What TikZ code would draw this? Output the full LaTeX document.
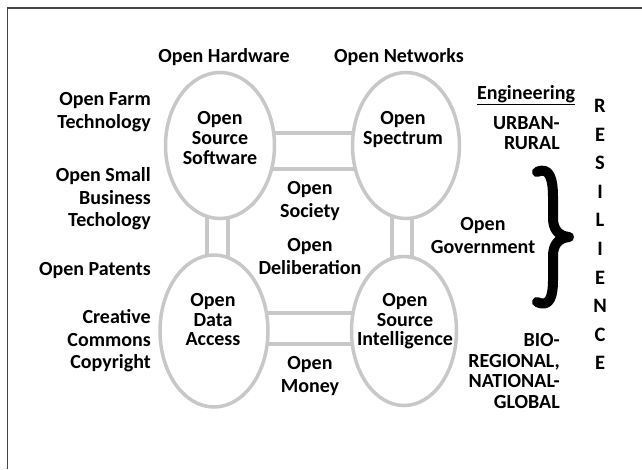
\documentclass[tikz,border=0pt]{standalone}
\usepackage{fontspec}
\setmainfont{Carlito}
\usetikzlibrary{shapes.geometric}
\pgfdeclarelayer{bg}
\pgfsetlayers{bg,main}
\definecolor{ringc}{RGB}{200,200,200}
\definecolor{framec}{RGB}{70,70,70}
\newcommand{\mystrut}{\rule{0pt}{16pt}}
\begin{document}
\begin{tikzpicture}[x=1pt,y=-1pt,
  ring/.style={ellipse, draw=ringc, line width=3.5pt, fill=white, inner sep=0},
  link/.style={draw=ringc, line width=3.5pt},
  lbl/.style={inner sep=0, anchor=north, align=center, font=\fontsize{20}{22.3}\selectfont\bfseries},
  rlbl/.style={lbl, anchor=north east, align=right},
  intxt/.style={lbl, font=\fontsize{20}{20}\selectfont\bfseries},
  geo/.style={rlbl, font=\fontsize{20}{20.6}\selectfont\bfseries},
  letter/.style={inner sep=0, anchor=north, font=\fontsize{20.5}{22}\selectfont\bfseries}
]
\useasboundingbox (0,0) rectangle (642,469);
\draw[framec, line width=1.6pt] (7.5,469) -- (7.5,8) -- (642,8);

% ellipses
\node[ring, minimum width=109pt, minimum height=146pt] (oss) at (220,145.5) {};
\node[ring, minimum width=107pt, minimum height=146pt] (osp) at (406,145.5) {};
\node[ring, minimum width=108pt, minimum height=152pt] (oda) at (214,331) {};
\node[ring, minimum width=105pt, minimum height=149pt] (osi) at (404,331) {};

% connectors
\begin{pgfonlayer}{bg}
\draw[link] (oss |- 0,133) -- (osp |- 0,133);
\draw[link] (oss |- 0,169) -- (osp |- 0,169);
\draw[link] (oda |- 0,313) -- (osi |- 0,313);
\draw[link] (oda |- 0,344) -- (osi |- 0,344);
\draw[link] (oss -| 207,0) -- (oda -| 207,0);
\draw[link] (oss -| 228,0) -- (oda -| 228,0);
\draw[link] (osp -| 392,0) -- (osi -| 392,0);
\draw[link] (osp -| 412,0) -- (osi -| 412,0);
\end{pgfonlayer}

% ellipse texts
\node[intxt] (osstxt) at (220,108.5) {\mystrut Open\\Source\\Software};
\node[intxt] (osptxt) at (403,108.5) {\mystrut Open\\Spectrum};
\node[intxt, font=\fontsize{20}{19.5}\selectfont\bfseries] (odatxt) at (213,290.5) {\mystrut Open\\Data\\Access};
\node[intxt, font=\fontsize{20}{19.5}\selectfont\bfseries] (ositxt) at (405,290.5) {\mystrut Open\\Source\\Intelligence};

% top labels
\node[lbl] (hw) at (224,46.5) {\mystrut Open Hardware};
\node[lbl] (nw) at (399,46.5) {\mystrut Open Networks};

% left labels
\node[rlbl] (farm) at (151,89.5) {\mystrut Open Farm\\Technology};
\node[rlbl] (small) at (151,165.5) {\mystrut Open Small\\Business\\Techology};
\node[rlbl] (patents) at (151,259.5) {\mystrut Open Patents};
\node[rlbl] (cc) at (151,307.5) {\mystrut Creative\\Commons\\Copyright};

% middle labels
\node[lbl] (society) at (310,178.5) {\mystrut Open\\Society};
\node[lbl] (delib) at (310,235.5) {\mystrut Open\\Deliberation};
\node[lbl] (money) at (310,353.5) {\mystrut Open\\Money};
\node[lbl] (gov) at (483,214.5) {\mystrut Open\\Government};

% right side
\node[lbl] (eng) at (526,83.5) {\mystrut\underline{Engineering}};
\node[geo, font=\fontsize{20}{20}\selectfont\bfseries] (urban) at (560,113.5) {\mystrut URBAN-\\RURAL};
\node[geo] (bio) at (560,330.5) {\mystrut BIO-\\REGIONAL,\\NATIONAL-\\GLOBAL};

% brace
\draw[line width=10pt, line cap=round, line join=round]
  (537,172) .. controls (550,166) and (553,180) .. (553,197) -- (553,218)
  .. controls (553,230) and (559,236) .. (569,237)
  .. controls (559,238) and (553,244) .. (553,256) -- (553,280)
  .. controls (553,296) and (550,308) .. (537,302);

% RESILIENCE
\foreach \ch [count=\i from 0] in {R,E,S,I,L,I,E,N,C,E} {
  \node[letter] (res\i) at (600,96.5+\i*28.55) {\mystrut\ch};
}
\end{tikzpicture}
\end{document}
